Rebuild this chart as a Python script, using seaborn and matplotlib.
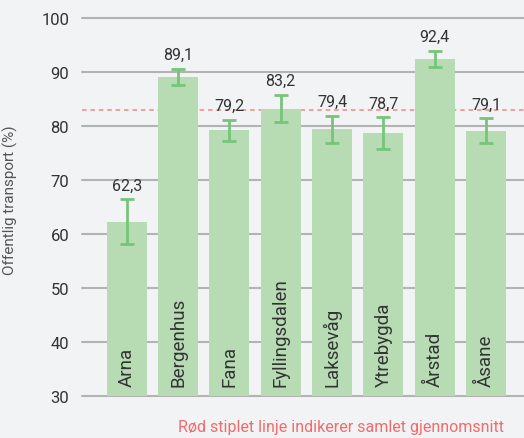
import pandas as pd
import matplotlib.pyplot as plt
import seaborn as sns

# Data
bydeler = ['Arna', 'Bergenhus', 'Fana', 'Fyllingsdalen', 'Laksevåg', 'Ytrebygda', 'Årstad', 'Åsane']
andel = [62.3, 89.1, 79.2, 83.2, 79.4, 78.7, 92.4, 79.1]
feil = [4.1, 1.5, 2.0, 2.5, 2.5, 2.9, 1.5, 2.3]
snitt = 83.0

df = pd.DataFrame({'bydel': bydeler, 'andel': andel})

sns.set_theme(style='white')
plt.rcParams['font.family'] = ['Roboto', 'DejaVu Sans']

bg = '#f2f3f5'
fig = plt.figure(figsize=(5.24, 4.39), dpi=100, facecolor=bg)
ax = fig.add_axes([0.156, 0.0957, 0.844, 0.861])
ax.set_facecolor(bg)

# Gjennomsnittslinje bak søylene
ax.axhline(snitt, color='#ee8a86', linestyle=(0, (3, 2.5)), linewidth=1.1, zorder=1)

sns.barplot(data=df, x='bydel', y='andel', color='#b7dcb4', saturation=1,
            width=0.78, errorbar=None, linewidth=0, ax=ax, zorder=2)

ax.errorbar(range(len(bydeler)), andel, yerr=feil, fmt='none', ecolor='#77c47a',
            elinewidth=2, capsize=5, capthick=2, zorder=3)

# Verdier over feilstolpene
for i, (v, e) in enumerate(zip(andel, feil)):
    ax.text(i, v + e + 1.3, f'{v:.1f}'.replace('.', ','), ha='center', va='bottom',
            fontsize=11.5, color='#333333', zorder=4)

# Navn inne i søylene
for i, navn in enumerate(bydeler):
    ax.text(i, 31.9, navn, rotation=90, ha='center', va='bottom',
            fontsize=13.5, color='#333333', zorder=4)

ax.set_ylim(30, 100)
ax.set_xlim(-0.877, 7.74)
ax.set_yticks(range(30, 101, 10))
ax.set_xticks([])
ax.set_xlabel('')
ax.set_ylabel('Offentlig transport (%)', fontsize=11, color='#555555')
ax.yaxis.set_label_coords(-0.145, 0.52)
ax.tick_params(axis='y', length=0, pad=9, labelsize=12, labelcolor='#333333')
ax.yaxis.grid(True, color='#b3b3b3', linewidth=1.5, zorder=0)
ax.set_axisbelow(True)
for s in ax.spines.values():
    s.set_visible(False)
for gl in ax.get_ygridlines():
    gl.set_clip_on(False)

fig.text(0.962, 0.008, 'Rød stiplet linje indikerer samlet gjennomsnitt',
         ha='right', va='bottom', fontsize=11.5, color='#f26b6b')

plt.savefig('out.png', dpi=100, facecolor=bg)
